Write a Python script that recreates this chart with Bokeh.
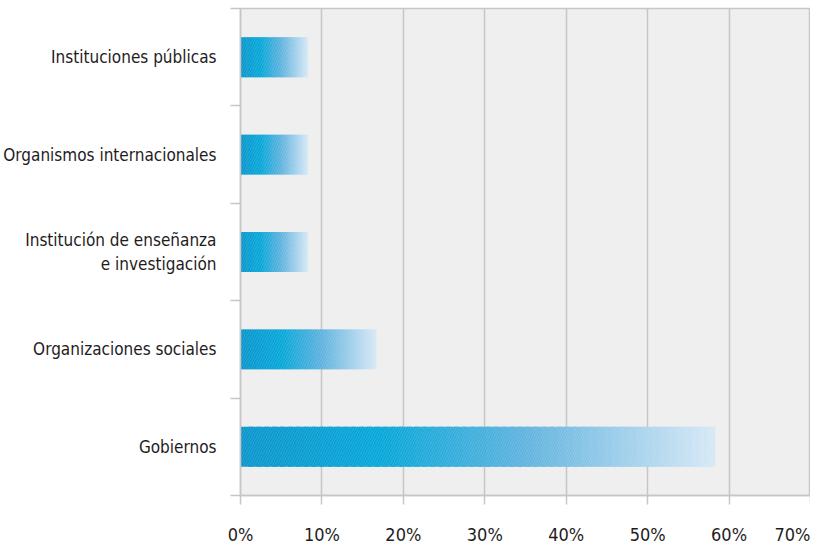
import numpy as np
from bokeh.plotting import figure
from bokeh.models import FixedTicker, Range1d, ColumnDataSource
from bokeh.embed import file_html
from bokeh.resources import INLINE

# ---- data ----
categories = [
    "Gobiernos",
    "Organizaciones sociales",
    "Institución de enseñanza\ne investigación",
    "Organismos internacionales",
    "Instituciones públicas",
]
values = [58.3, 16.7, 8.3, 8.3, 8.3]
x_ticks = [0, 10, 20, 30, 40, 50, 60, 70]

# ---- style ----
FONT = "DejaVu Sans Condensed, Liberation Sans Narrow, sans-serif"
GRID = "#c6c6c6"
TEXT = "#1f1c1d"
stops_pos = [0.0, 0.3, 0.6, 1.0]
stops_rgb = np.array([[7, 149, 204], [4, 166, 216], [95, 178, 222], [214, 232, 246]], float)
N = 60

ys = [i + 0.5 for i in range(len(categories))]
bar_h = 0.41

lefts, rights, yy, cols = [], [], [], []
for y, v in zip(ys, values):
    for i in range(N):
        f = (i + 0.5) / N
        rgb = [np.interp(f, stops_pos, stops_rgb[:, k]) for k in range(3)]
        cols.append("#%02x%02x%02x" % tuple(int(round(c)) for c in rgb))
        lefts.append(v * i / N)
        r = v * (i + 1) / N
        if i < N - 1:
            r += v / N * 0.6
        rights.append(r)
        yy.append(y)

seg = ColumnDataSource(dict(y=yy, left=lefts, right=rights, color=cols))

p = figure(
    width=810, height=547,
    x_range=Range1d(0, 70), y_range=Range1d(0, 5),
    output_backend="svg", toolbar_location=None,
    min_border_left=232, min_border_right=0, min_border_top=8, min_border_bottom=0,
    background_fill_color="#efefef", border_fill_color="white",
    outline_line_color=GRID, outline_line_width=1.5,
)

p.hbar(y="y", left="left", right="right", height=bar_h, fill_color="color",
       line_color=None, source=seg)
p.hbar(y=ys, left=0, right=values, height=bar_h, fill_alpha=0, line_color=None,
       hatch_pattern="/", hatch_color="white", hatch_alpha=0.15, hatch_scale=5, hatch_weight=1)

# grid
p.ygrid.grid_line_color = None
p.xgrid.grid_line_color = GRID
p.xgrid.grid_line_width = 1.5
p.xgrid.ticker = FixedTicker(ticks=x_ticks)

# x axis
p.xaxis.ticker = FixedTicker(ticks=x_ticks)
p.xaxis.major_label_overrides = {t: f"{t}%" for t in x_ticks}
p.xaxis.axis_line_color = GRID
p.xaxis.axis_line_width = 1.5
p.xaxis.major_tick_line_color = GRID
p.xaxis.major_tick_line_width = 1.5
p.xaxis.major_tick_out = 9
p.xaxis.major_tick_in = 0
p.xaxis.minor_tick_line_color = None
p.xaxis.major_label_standoff = 19
p.xaxis.major_label_text_font = FONT
p.xaxis.major_label_text_font_size = "18px"
p.xaxis.major_label_text_color = TEXT

# y axis
p.yaxis.ticker = FixedTicker(ticks=ys, minor_ticks=[0, 1, 2, 3, 4, 5])
p.yaxis.major_label_overrides = {y: c for y, c in zip(ys, categories)}
p.yaxis.axis_line_color = GRID
p.yaxis.axis_line_width = 1.5
p.yaxis.major_tick_line_color = None
p.yaxis.major_tick_out = 0
p.yaxis.major_tick_in = 0
p.yaxis.minor_tick_line_color = GRID
p.yaxis.minor_tick_line_width = 1.5
p.yaxis.minor_tick_out = 10
p.yaxis.minor_tick_in = 0
p.yaxis.major_label_standoff = 14
p.yaxis.major_label_text_font = FONT
p.yaxis.major_label_text_font_size = "17px"
p.yaxis.major_label_text_color = TEXT

open("out.html", "w").write(file_html(p, INLINE))
